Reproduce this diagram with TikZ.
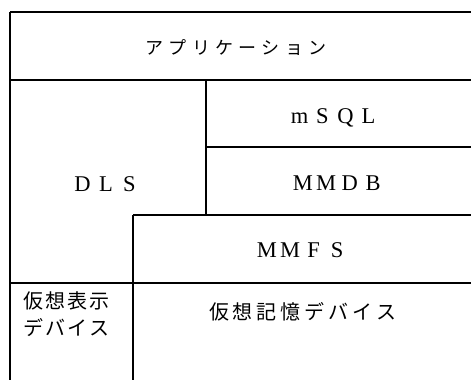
\documentclass[tikz,border=0pt]{standalone}
\usepackage{fontspec}
\setmainfont{Liberation Serif}
\newfontfamily\cjk{Noto Sans CJK JP}
\makeatletter
% set every character of #2 in a box #1 wide (fixed pitch)
\def\pitch#1#2{\def\pitch@w{#1}\pitch@loop#2\relax}
\def\pitch@loop#1{\ifx#1\relax\else\makebox[\pitch@w]{#1}\expandafter\pitch@loop\fi}
\makeatother
\begin{document}
\begin{tikzpicture}[x=1pt,y=-1pt,
  rule/.style={line width=1.7pt},
  thin rule/.style={line width=1.1pt},
  lat/.style={inner sep=0pt,anchor=base,font=\fontsize{22.5}{24}\selectfont},
  jp/.style={inner sep=0pt,font=\cjk\fontsize{18}{20}\selectfont},
  kj/.style={inner sep=0pt,font=\cjk\fontsize{20}{27}\selectfont,align=center}]
\useasboundingbox (0,0) rectangle (471,380);
% frame lines
\draw[rule] (10,12) -- (471,12);
\draw[rule] (10,12) -- (10,380);
\draw[rule] (10,80) -- (471,80);
\draw[rule] (206,80) -- (206,215);
\draw[rule] (206,147) -- (471,147);
\draw[rule] (133,215) -- (471,215);
\draw[thin rule] (133,215) -- (133,380);
\draw[rule] (10,283) -- (471,283);
% texts
\node[jp] (app) at (236,48) {\pitch{23.3pt}{アプリケーション}};
\node[lat] (msql) at (334,123) {\pitch{23pt}{mSQL}};
\node[lat] (mmdb) at (338,190) {\pitch{23.5pt}{MMDB}};
\node[lat] (dls) at (106,191) {\pitch{23.5pt}{DLS}};
\node[lat] (mmfs) at (302,257) {\pitch{23.5pt}{MMFS}};
\node[kj] (vdisp) at (67,314) {\pitch{22pt}{仮想表示}\\\pitch{22pt}{デバイス}};
\node[kj] (vmem) at (303,312) {\pitch{24pt}{仮想記憶デバイス}};
\end{tikzpicture}
\end{document}
